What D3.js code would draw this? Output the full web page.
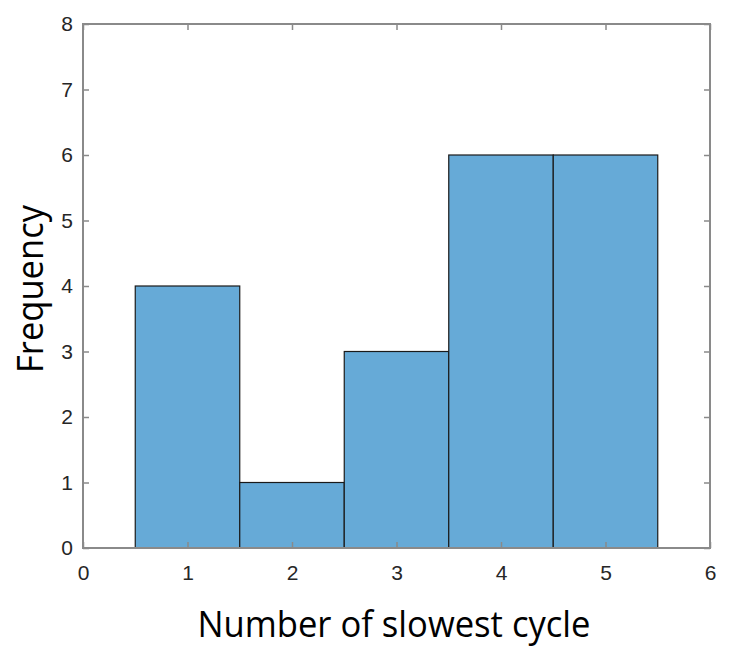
<!DOCTYPE html>
<html><head><meta charset="utf-8">
<script src="https://cdn.jsdelivr.net/npm/d3@7"></script>
<style>body{margin:0;background:#fff}</style>
</head><body>
<svg id="c" width="734" height="658"></svg>
<script>
const categories = [1, 2, 3, 4, 5];
const frequencies = [4, 1, 3, 6, 6];
const xTicks = [0, 1, 2, 3, 4, 5, 6];
const yTicks = [0, 1, 2, 3, 4, 5, 6, 7, 8];
const xLabel = "Number of slowest cycle";
const yLabel = "Frequency";

const svg = d3.select("#c");
const L = 83, R = 710, T = 24, B = 548;
const x = d3.scaleLinear().domain([0, 6]).range([L, R]);
const y = d3.scaleLinear().domain([0, 8]).range([B, T]);
const axisColor = "#8a8a8a";
const textColor = "#262626";

// bars
svg.append("g").selectAll("rect").data(categories).join("rect")
  .attr("x", d => x(d - 0.5))
  .attr("y", (d, i) => y(frequencies[i]))
  .attr("width", d => x(d + 0.5) - x(d - 0.5))
  .attr("height", (d, i) => y(0) - y(frequencies[i]))
  .attr("fill", "#66aad7")
  .attr("stroke", "#1a1a1a")
  .attr("stroke-width", 1.2);

const tl = 6;
function styleAxis(g) {
  g.attr("font-size", 21).attr("font-family", "Arial, 'Liberation Sans', sans-serif");
  g.selectAll(".domain").remove();
  g.selectAll("line").attr("stroke", axisColor).attr("stroke-width", 1.5);
  g.selectAll("text").attr("fill", textColor);
}
// bottom
svg.append("g").attr("transform", `translate(0,${B})`)
  .call(d3.axisBottom(x).tickValues(xTicks).tickFormat(d3.format("d")).tickSizeInner(-tl).tickSizeOuter(0).tickPadding(17))
  .call(styleAxis);
// top
svg.append("g").attr("transform", `translate(0,${T})`)
  .call(d3.axisTop(x).tickValues(xTicks).tickFormat("").tickSizeInner(-tl).tickSizeOuter(0))
  .call(styleAxis);
// left
svg.append("g").attr("transform", `translate(${L},0)`)
  .call(d3.axisLeft(y).tickValues(yTicks).tickFormat(d3.format("d")).tickSizeInner(-tl).tickSizeOuter(0).tickPadding(10))
  .call(styleAxis);
// right
svg.append("g").attr("transform", `translate(${R},0)`)
  .call(d3.axisRight(y).tickValues(yTicks).tickFormat("").tickSizeInner(-tl).tickSizeOuter(0))
  .call(styleAxis);

// box
svg.append("rect").attr("x", L).attr("y", T).attr("width", R - L).attr("height", B - T)
  .attr("fill", "none").attr("stroke", axisColor).attr("stroke-width", 2);

// labels
svg.append("text").attr("x", 394).attr("y", 637)
  .attr("text-anchor", "middle").attr("font-family", "'Open Sans', sans-serif")
  .attr("font-size", 36).attr("textLength", 393).attr("lengthAdjust", "spacingAndGlyphs")
  .attr("fill", "#000").text(xLabel);
svg.append("text").attr("transform", `translate(43,289) rotate(-90)`)
  .attr("text-anchor", "middle").attr("font-family", "'Open Sans', sans-serif")
  .attr("font-size", 36).attr("textLength", 168).attr("lengthAdjust", "spacingAndGlyphs")
  .attr("fill", "#000").text(yLabel);
</script>
</body></html>
